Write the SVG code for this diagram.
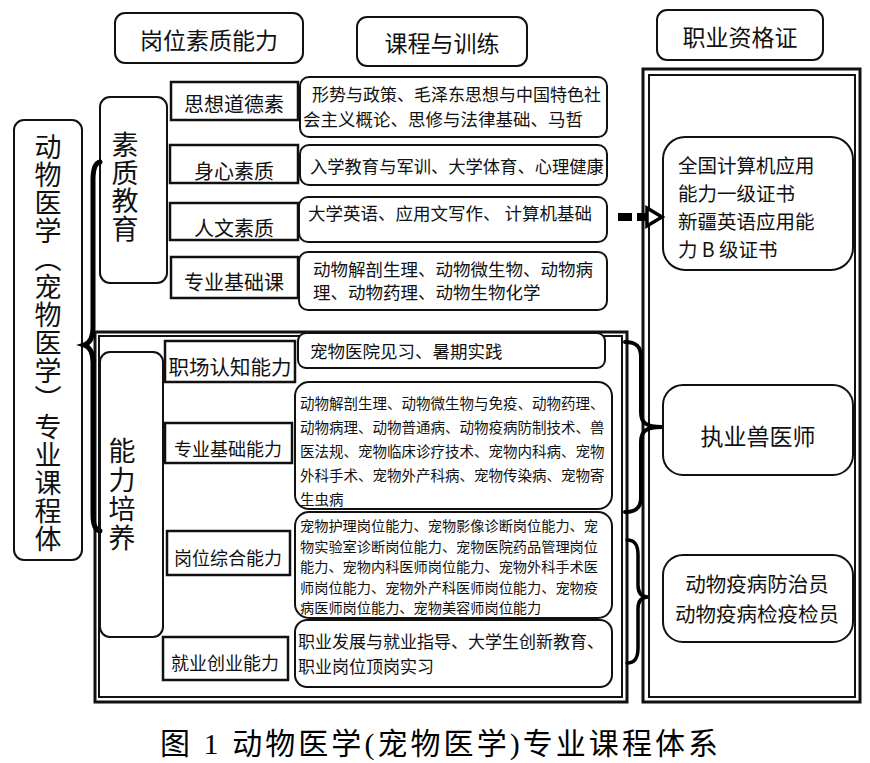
<svg xmlns="http://www.w3.org/2000/svg" width="870" height="763" viewBox="0 0 870 763">
<style>
.bx{fill:#fff;stroke:#111;stroke-width:2}
.sq{fill:#fff;stroke:#111;stroke-width:2.5}
.t{font-family:"Noto Sans CJK SC","Noto Sans",sans-serif;fill:#111}
.c{text-anchor:middle;dominant-baseline:central}
.l{dominant-baseline:central}
.v{writing-mode:vertical-rl;text-anchor:start}
.br{fill:none;stroke:#000;stroke-linecap:round}
</style>
<rect width="870" height="763" fill="#fff"/>

<g id="hdr-ability"><rect class="bx" x="115" y="13" width="188" height="50" rx="10"/><text class="t c" x="209" y="39" font-size="23">岗位素质能力</text></g>
<g id="hdr-course"><rect class="bx" x="357" y="17" width="170" height="49" rx="10"/><text class="t c" x="442" y="42" font-size="23">课程与训练</text></g>
<g id="hdr-cert"><rect class="bx" x="657" y="10" width="166" height="50" rx="10"/><text class="t c" x="740" y="36" font-size="23">职业资格证</text></g>

<g id="root"><rect class="bx" x="14" y="120" width="68" height="440" rx="10"/><text class="t v" x="48" y="133" font-size="27" letter-spacing="1">动物医学（宠物医学）专业课程体</text></g>

<g id="suzhi"><rect class="bx" x="100" y="97" width="67" height="186" rx="10"/><text class="t v" x="125" y="131" font-size="27" letter-spacing="1">素质教育</text></g>

<g id="s1"><rect class="sq" x="171" y="82" width="127" height="38"/><text class="t c" x="234" y="103" font-size="20">思想道德素</text></g>
<g id="s2"><rect class="sq" x="170" y="145" width="128" height="38"/><text class="t c" x="234" y="170" font-size="20">身心素质</text></g>
<g id="s3"><rect class="sq" x="170" y="203" width="128" height="37"/><text class="t c" x="234" y="227" font-size="20">人文素质</text></g>
<g id="s4"><rect class="sq" x="171" y="257" width="127" height="41"/><text class="t c" x="234" y="281" font-size="20">专业基础课</text></g>

<g id="c1"><rect class="bx" x="300" y="77" width="307" height="60" rx="9"/><text class="t l" x="312" y="93" font-size="17">形势与政策、毛泽东思想与中国特色社</text><text class="t l" x="303" y="118" font-size="17.5">会主义概论、思修与法律基础、马哲</text></g>
<g id="c2"><rect class="bx" x="300" y="145" width="307" height="40" rx="9"/><text class="t l" x="310" y="165" font-size="17.3">入学教育与军训、大学体育、心理健康</text></g>
<g id="c3"><rect class="bx" x="299" y="197" width="308" height="45" rx="9"/><text class="t l" x="308" y="212" font-size="17.5">大学英语、应用文写作、 计算机基础</text></g>
<g id="c4"><rect class="bx" x="299" y="252" width="308" height="58" rx="9"/><text class="t l" x="313" y="268" font-size="17.5">动物解剖生理、动物微生物、动物病</text><text class="t l" x="313" y="291" font-size="17.5">理、动物药理、动物生物化学</text></g>

<g id="cert-frame"><rect x="643" y="69" width="217" height="633" fill="none" stroke="#111" stroke-width="3"/><rect x="649" y="75" width="206" height="622" fill="none" stroke="#111" stroke-width="2"/></g>

<g id="ability-frame"><rect x="95" y="332" width="532" height="370" fill="none" stroke="#111" stroke-width="3"/><rect x="99" y="336" width="523" height="361" fill="none" stroke="#111" stroke-width="2"/></g>

<g id="nengli"><rect class="bx" x="100" y="352" width="63" height="285" rx="10"/><text class="t v" x="122" y="437" font-size="27" letter-spacing="2">能力培养</text></g>

<g id="a1"><rect class="sq" x="165" y="341" width="130" height="41"/><text class="t c" x="230" y="366" font-size="20.5">职场认知能力</text></g>
<g id="a2"><rect class="sq" x="165" y="423" width="127" height="40"/><text class="t c" x="228" y="448" font-size="18">专业基础能力</text></g>
<g id="a3"><rect class="sq" x="167" y="531" width="123" height="44"/><text class="t c" x="228" y="557" font-size="18">岗位综合能力</text></g>
<g id="a4"><rect class="sq" x="163" y="637" width="125" height="43"/><text class="t c" x="225" y="662" font-size="18">就业创业能力</text></g>

<g id="d1"><rect class="bx" x="298" y="333" width="307" height="35" rx="8"/><text class="t l" x="310" y="350" font-size="17.5">宠物医院见习、暑期实践</text></g>
<g id="d2"><rect class="bx" x="295" y="382" width="317" height="127" rx="14"/>
<text class="t l" font-size="14.5"><tspan x="300" y="402">动物解剖生理、动物微生物与免疫、动物药理、</tspan><tspan x="300" y="426">动物病理、动物普通病、动物疫病防制技术、兽</tspan><tspan x="300" y="450">医法规、宠物临床诊疗技术、宠物内科病、宠物</tspan><tspan x="300" y="474">外科手术、宠物外产科病、宠物传染病、宠物寄</tspan><tspan x="300" y="498">生虫病</tspan></text></g>
<g id="d3"><rect class="bx" x="295" y="512" width="317" height="106" rx="14"/>
<text class="t l" font-size="14.2"><tspan x="300" y="525">宠物护理岗位能力、宠物影像诊断岗位能力、宠</tspan><tspan x="300" y="545.5">物实验室诊断岗位能力、宠物医院药品管理岗位</tspan><tspan x="300" y="566">能力、宠物内科医师岗位能力、宠物外科手术医</tspan><tspan x="300" y="586.5">师岗位能力、宠物外产科医师岗位能力、宠物疫</tspan><tspan x="300" y="607">病医师岗位能力、宠物美容师岗位能力</tspan></text></g>
<g id="d4"><rect class="bx" x="295" y="620" width="317" height="67" rx="12"/><text class="t l" x="298" y="640" font-size="17">职业发展与就业指导、大学生创新教育、</text><text class="t l" x="298" y="665" font-size="17">职业岗位顶岗实习</text></g>

<g id="k1"><rect class="bx" x="663" y="137" width="190" height="133" rx="22"/>
<text class="t l" font-size="19.5"><tspan x="678" y="164">全国计算机应用</tspan><tspan x="678" y="192">能力一级证书</tspan><tspan x="678" y="220">新疆英语应用能</tspan><tspan x="678" y="248">力 B 级证书</tspan></text></g>
<g id="k2"><rect class="bx" x="663" y="385" width="190" height="90" rx="20"/><text class="t c" x="758" y="435" font-size="23">执业兽医师</text></g>
<g id="k3"><rect class="bx" x="663" y="555" width="190" height="87" rx="20"/><text class="t c" x="757" y="583" font-size="20.5">动物疫病防治员</text><text class="t c" x="757" y="613" font-size="20.5">动物疫病检疫检员</text></g>

<g id="connectors">
<path class="br" stroke-width="5" d="M100,162 C95,163 93,170 93,180 L93,328 C93,338 90,343 84,345 C90,347 93,352 93,362 L93,515 C93,525 95,530 100,531"/>
<path class="br" stroke-width="4" d="M625,342 C637,342 641,347 641,357 L641,412 C641,422 645,427 662,427 C645,427 641,432 641,442 L641,497 C641,507 637,512 625,512"/>
<path class="br" stroke-width="3.5" d="M627,540 C635,540 638,545 638,555 L638,585 C638,593 641,597 648,597 C641,597 638,601 638,609 L638,648 C638,658 635,663 627,663"/>
<rect x="618" y="213" width="14" height="8" fill="#000"/>
<rect x="637" y="213" width="9" height="8" fill="#000"/>
<path d="M647,208 L662,217 L647,226 Z" fill="#fff" stroke="#000" stroke-width="3.5" stroke-linejoin="miter"/>
</g>

<text x="439" y="743" text-anchor="middle" dominant-baseline="central" font-family="'Liberation Serif','Noto Sans CJK SC',serif" font-size="30" textLength="558" lengthAdjust="spacing">图 1 动物医学(宠物医学)专业课程体系</text>
</svg>
